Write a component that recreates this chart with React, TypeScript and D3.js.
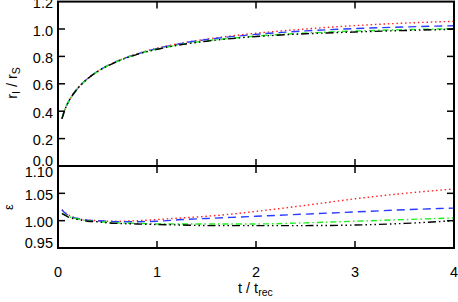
import React from "react";
import * as d3 from "d3";

const tValues = [0.04, 0.07, 0.1, 0.15, 0.2, 0.3, 0.4, 0.5, 0.6, 0.8, 1.0, 1.25, 1.5, 1.75, 2.0, 2.5, 3.0, 3.5, 4.0];

const radiusRed = [0.347, 0.413, 0.462, 0.522, 0.568, 0.639, 0.691, 0.732, 0.766, 0.820, 0.860, 0.897, 0.926, 0.949, 0.969, 1.000, 1.025, 1.043, 1.056];
const radiusBlue = [0.347, 0.413, 0.462, 0.521, 0.568, 0.639, 0.691, 0.732, 0.765, 0.818, 0.857, 0.895, 0.923, 0.944, 0.961, 0.986, 1.003, 1.015, 1.024];
const radiusGreen = [0.345, 0.411, 0.461, 0.521, 0.568, 0.638, 0.690, 0.731, 0.764, 0.816, 0.853, 0.888, 0.914, 0.932, 0.948, 0.970, 0.985, 0.995, 1.002];
const radiusBlack = [0.344, 0.411, 0.460, 0.520, 0.567, 0.637, 0.690, 0.730, 0.763, 0.815, 0.852, 0.886, 0.911, 0.930, 0.945, 0.965, 0.978, 0.989, 0.998];

const epsRed = [1.020, 1.015, 1.011, 1.007, 1.004, 1.001, 1.000, 0.999, 0.999, 1.000, 1.002, 1.005, 1.008, 1.012, 1.017, 1.028, 1.040, 1.050, 1.058];
const epsBlue = [1.020, 1.014, 1.010, 1.006, 1.004, 1.001, 1.000, 0.999, 0.998, 0.998, 0.999, 1.002, 1.004, 1.006, 1.008, 1.012, 1.016, 1.020, 1.023];
const epsGreen = [1.014, 1.010, 1.008, 1.005, 1.003, 1.000, 0.998, 0.997, 0.996, 0.995, 0.994, 0.994, 0.994, 0.994, 0.994, 0.996, 0.999, 1.002, 1.005];
const epsBlack = [1.013, 1.010, 1.007, 1.004, 1.002, 0.999, 0.998, 0.996, 0.995, 0.994, 0.993, 0.992, 0.991, 0.991, 0.991, 0.991, 0.992, 0.995, 1.000];

const xTicks = [0, 1, 2, 3, 4];
const xTickLabels = ["0", "1", "2", "3", "4"];
const topTicks = [0.0, 0.2, 0.4, 0.6, 0.8, 1.0, 1.2];
const topTickLabels = ["0.0", "0.2", "0.4", "0.6", "0.8", "1.0", "1.2"];
const botTicks = [0.95, 1.0, 1.05, 1.1];
const botTickLabels = ["0.95", "1.00", "1.05", "1.10"];

const W = 458;
const H = 302;
const left = 58;
const right = 454;
const topY = 1.6;
const midY = 166;
const botY = 248;
const font = "'Liberation Sans', Arial, Helvetica, sans-serif";

const styles = [
  { color: "#ff2020", dash: "1.5,2.8" },
  { color: "#2a3cff", dash: "8,5" },
  { color: "#20ee20", dash: "6,3,1.5,3" },
  { color: "#000000", dash: "8,3,1.5,3,1.5,3,1.5,3" },
];

export default function App() {
  const x = d3.scaleLinear().domain([0, 4]).range([left, right]);
  const yTop = d3.scaleLinear().domain([0, 1.2]).range([midY, topY]);
  const yBot = d3.scaleLinear().domain([0.95, 1.1]).range([botY, midY]);

  const topSeries = [radiusRed, radiusBlue, radiusGreen, radiusBlack];
  const botSeries = [epsRed, epsBlue, epsGreen, epsBlack];

  const lineTop = d3
    .line<number>()
    .x((_, i) => x(tValues[i]))
    .y((d) => yTop(d))
    .curve(d3.curveMonotoneX);
  const lineBot = d3
    .line<number>()
    .x((_, i) => x(tValues[i]))
    .y((d) => yBot(d))
    .curve(d3.curveMonotoneX);

  const tl = 7;
  const inner = [1, 2, 3];

  const topLabelDy = (v: number) => (v === 0 ? 0 : 6.5);
  const botLabelDy = (v: number) => (v === 1.1 ? 11 : v === 0.95 ? 0 : 6.5);

  return (
    <svg
      width={W}
      height={H}
      style={{ position: "absolute", left: 0, top: 0, background: "#fff" }}
      fontFamily={font}
    >
      <rect x={0} y={0} width={W} height={H} fill="#fff" />
      {/* series top */}
      {topSeries.map((s, i) => (
        <path
          key={"t" + i}
          d={lineTop(s) || ""}
          fill="none"
          stroke={styles[i].color}
          strokeWidth={1.4}
          strokeDasharray={styles[i].dash}
        />
      ))}
      {botSeries.map((s, i) => (
        <path
          key={"b" + i}
          d={lineBot(s) || ""}
          fill="none"
          stroke={styles[i].color}
          strokeWidth={1.4}
          strokeDasharray={styles[i].dash}
        />
      ))}
      {/* frames */}
      <rect x={left} y={topY} width={right - left} height={midY - topY} fill="none" stroke="#000" strokeWidth={2} />
      <rect x={left} y={midY} width={right - left} height={botY - midY} fill="none" stroke="#000" strokeWidth={2} />
      {/* x ticks */}
      {inner.map((v) => (
        <g key={"xt" + v} stroke="#000" strokeWidth={1.5}>
          <line x1={x(v)} x2={x(v)} y1={topY} y2={topY + tl} />
          <line x1={x(v)} x2={x(v)} y1={midY - tl} y2={midY + tl} />
          <line x1={x(v)} x2={x(v)} y1={botY} y2={botY - tl} />
        </g>
      ))}
      {/* y ticks top */}
      {topTicks.slice(1, -1).map((v) => (
        <g key={"yt" + v} stroke="#000" strokeWidth={1.5}>
          <line x1={left} x2={left + tl} y1={yTop(v)} y2={yTop(v)} />
          <line x1={right} x2={right - tl} y1={yTop(v)} y2={yTop(v)} />
        </g>
      ))}
      {botTicks.slice(1, -1).map((v) => (
        <g key={"yb" + v} stroke="#000" strokeWidth={1.5}>
          <line x1={left} x2={left + tl} y1={yBot(v)} y2={yBot(v)} />
          <line x1={right} x2={right - tl} y1={yBot(v)} y2={yBot(v)} />
        </g>
      ))}
      {/* tick labels */}
      {topTicks.map((v, i) => (
        <text key={"tl" + v} x={left - 5} y={yTop(v) + topLabelDy(v)} textAnchor="end" fontSize={14.5} fill="#000">
          {topTickLabels[i]}
        </text>
      ))}
      {botTicks.map((v, i) => (
        <text key={"bl" + v} x={left - 5} y={yBot(v) + botLabelDy(v)} textAnchor="end" fontSize={14.5} fill="#000">
          {botTickLabels[i]}
        </text>
      ))}
      {xTicks.map((v, i) => (
        <text key={"xl" + v} x={x(v)} y={277} textAnchor="middle" fontSize={14.5} fill="#000">
          {xTickLabels[i]}
        </text>
      ))}
      {/* axis labels */}
      <text x={238} y={293} fontSize={14.5} fill="#000">
        t / t
        <tspan fontSize={10.5} dy={3}>rec</tspan>
      </text>
      <text transform="translate(17,83) rotate(-90)" textAnchor="middle" fontSize={14.5} fill="#000">
        r
        <tspan fontSize={10.5} dy={3}>I</tspan>
        <tspan dy={-3}> / r</tspan>
        <tspan fontSize={10.5} dy={3}>S</tspan>
      </text>
      <text transform="translate(13,207) rotate(-90)" textAnchor="middle" fontSize={13} fill="#000">
        ε
      </text>
    </svg>
  );
}
